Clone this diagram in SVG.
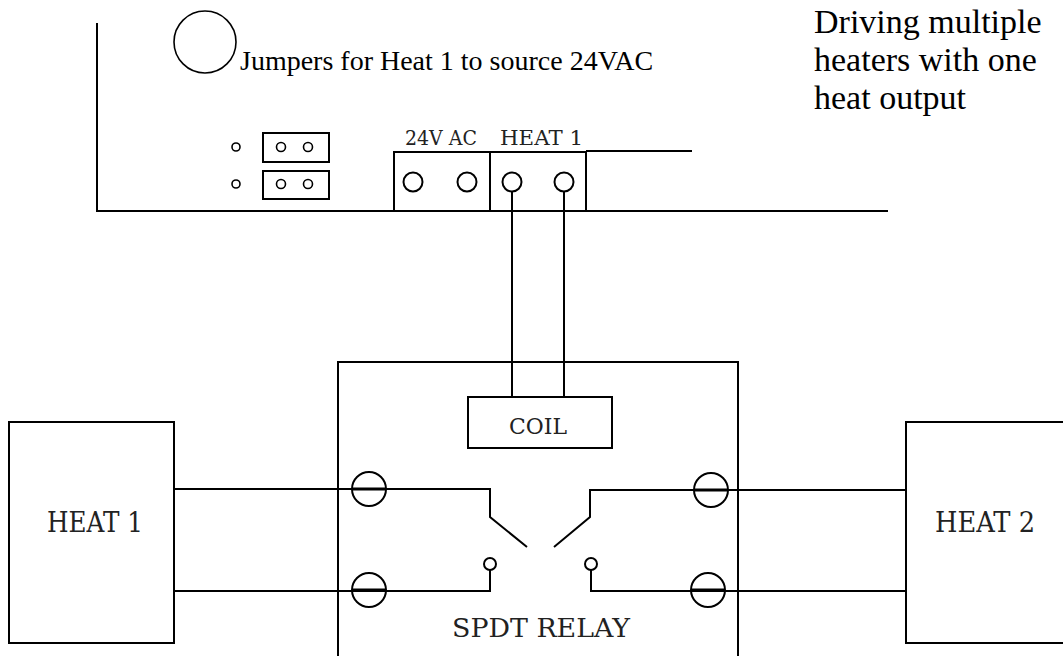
<svg xmlns="http://www.w3.org/2000/svg" width="1063" height="656" viewBox="0 0 1063 656">
<style>
.ln{fill:none;stroke:#000;stroke-width:2}
.thin{fill:none;stroke:#000;stroke-width:1.6}
.slot{stroke:#000;stroke-width:3.2}
.tnr{fill:#000;font-family:'Liberation Serif','Times New Roman',serif}
.lbl{fill:#222;font-family:'DejaVu Serif','Liberation Serif',serif}
</style>
<rect width="1063" height="656" fill="#fff"/>
<g id="board">
<path class="ln" d="M97,23 V211 H888"/>
<path class="ln" d="M586,151 H692"/>
</g>
<g id="jumper-note">
<circle class="thin" cx="205" cy="42" r="31"/>
<text class="tnr" x="240" y="70" font-size="28">Jumpers for Heat 1 to source 24VAC</text>
</g>
<g id="title">
<text class="tnr" font-size="34"><tspan x="814" y="33">Driving multiple</tspan><tspan x="814" y="71">heaters with one</tspan><tspan x="814" y="109">heat output</tspan></text>
</g>
<g id="jumpers">
<circle class="thin" cx="236" cy="147" r="4"/>
<circle class="thin" cx="236" cy="184" r="4"/>
<rect class="ln" x="263" y="133" width="66" height="29"/>
<rect class="ln" x="263" y="171" width="66" height="28"/>
<circle class="thin" cx="281" cy="147" r="4.5"/>
<circle class="thin" cx="308" cy="147" r="4.5"/>
<circle class="thin" cx="281" cy="184" r="4.5"/>
<circle class="thin" cx="308" cy="184" r="4.5"/>
</g>
<g id="terminal-block">
<rect class="ln" x="394" y="152" width="192" height="59"/>
<path class="ln" d="M490,152 V211"/>
<circle class="ln" cx="413" cy="182" r="9.5"/>
<circle class="ln" cx="467" cy="182" r="9.5"/>
<circle class="ln" cx="512" cy="182" r="9.5"/>
<circle class="ln" cx="564" cy="182" r="9.5"/>
<text class="lbl" x="405" y="145" font-size="20" textLength="72" lengthAdjust="spacingAndGlyphs">24V AC</text>
<text class="lbl" x="500" y="145" font-size="20" textLength="83" lengthAdjust="spacingAndGlyphs">HEAT 1</text>
</g>
<g id="relay">
<path class="ln" d="M338,662 V362 H738 V662"/>
<text class="lbl" x="452" y="637" font-size="26" textLength="178" lengthAdjust="spacingAndGlyphs">SPDT RELAY</text>
<circle class="ln" cx="369" cy="489" r="17"/>
<circle class="ln" cx="369" cy="590" r="17"/>
<circle class="ln" cx="711" cy="490" r="17"/>
<circle class="ln" cx="708" cy="590" r="17"/>
<path class="slot" d="M352,489 H386 M352,590 H386 M694,490 H728 M691,590 H725"/>
<circle class="ln" cx="490" cy="564" r="6"/>
<circle class="ln" cx="591" cy="564" r="6"/>
</g>
<g id="coil">
<rect class="ln" x="468" y="397" width="144" height="51"/>
<text class="lbl" x="509" y="434" font-size="23" textLength="58" lengthAdjust="spacingAndGlyphs">COIL</text>
</g>
<g id="heat1">
<rect class="ln" x="9" y="422" width="165" height="221"/>
<text class="lbl" x="47" y="532" font-size="27" textLength="96" lengthAdjust="spacingAndGlyphs">HEAT 1</text>
</g>
<g id="heat2">
<rect class="ln" x="906" y="422" width="170" height="221"/>
<text class="lbl" x="935" y="532" font-size="27" textLength="100" lengthAdjust="spacingAndGlyphs">HEAT 2</text>
</g>
<g id="connectors">
<path class="ln" d="M512,192 V397"/>
<path class="ln" d="M564,192 V397"/>
<path class="ln" d="M174,489 H490 V517 L527,547"/>
<path class="ln" d="M174,591 H490 V570"/>
<path class="ln" d="M906,490 H590 V517 L554,547"/>
<path class="ln" d="M906,591 H591 V570"/>
</g>
</svg>
